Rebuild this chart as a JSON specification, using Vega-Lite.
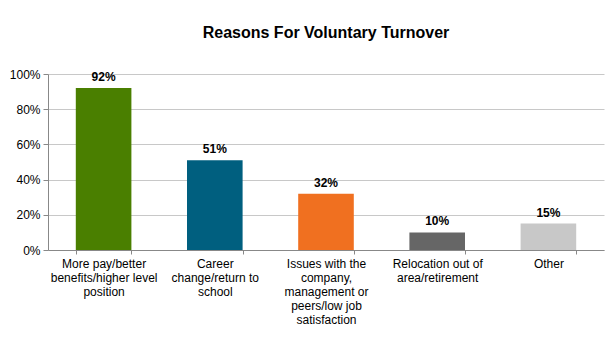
{
  "$schema": "https://vega.github.io/schema/vega-lite/v6.json",
  "width": 556,
  "height": 176,
  "padding": {"left": 9, "right": 5, "top": 25, "bottom": 5},
  "background": "white",
  "title": {
    "text": "Reasons For Voluntary Turnover",
    "font": "Liberation Sans",
    "fontSize": 16,
    "fontWeight": "bold",
    "color": "#000000",
    "anchor": "middle",
    "offset": 27
  },
  "data": {
    "values": [
      {"reason": "More pay/better|benefits/higher level|position", "pct": 0.92, "label": "92%", "color": "c1"},
      {"reason": "Career|change/return to|school", "pct": 0.51, "label": "51%", "color": "c2"},
      {"reason": "Issues with the|company,|management or|peers/low job|satisfaction", "pct": 0.32, "label": "32%", "color": "c3"},
      {"reason": "Relocation out of|area/retirement", "pct": 0.10, "label": "10%", "color": "c4"},
      {"reason": "Other", "pct": 0.15, "label": "15%", "color": "c5"}
    ]
  },
  "encoding": {
    "x": {
      "field": "reason",
      "type": "nominal",
      "sort": null,
      "title": null,
      "scale": {"paddingInner": 0.5, "paddingOuter": 0.25},
      "axis": {
        "labelAngle": 0,
        "labelExpr": "split(datum.label, '|')",
        "labelFont": "Liberation Sans",
        "labelFontSize": 12,
        "labelColor": "#000000",
        "labelLineHeight": 14,
        "labelPadding": 4,
        "tickBand": "extent",
        "tickColor": "#888888",
        "tickSize": 4,
        "domainColor": "#888888",
        "labelLimit": 200,
        "labelOverlap": false
      }
    },
    "y": {
      "field": "pct",
      "type": "quantitative",
      "title": null,
      "scale": {"domain": [0, 1]},
      "axis": {
        "format": ".0%",
        "values": [0, 0.2, 0.4, 0.6, 0.8, 1],
        "labelOverlap": false,
        "labelFont": "Liberation Sans",
        "labelFontSize": 12,
        "labelColor": "#000000",
        "gridColor": "#c8c8c8",
        "domainColor": "#888888",
        "tickColor": "#888888",
        "tickSize": 5,
        "labelPadding": 3
      }
    }
  },
  "layer": [
    {
      "mark": {"type": "bar"},
      "encoding": {
        "color": {
          "field": "color",
          "type": "nominal",
          "legend": null,
          "scale": {
            "domain": ["c1", "c2", "c3", "c4", "c5"],
            "range": ["#4a7f00", "#005f7f", "#f07020", "#666666", "#c8c8c8"]
          }
        }
      }
    },
    {
      "mark": {
        "type": "text",
        "font": "Liberation Sans",
        "fontSize": 12,
        "fontWeight": "bold",
        "color": "#000000",
        "baseline": "bottom",
        "dy": -4
      },
      "encoding": {
        "text": {"field": "label"}
      }
    }
  ],
  "config": {
    "view": {"stroke": null},
    "axis": {"labelFontWeight": "normal"}
  }
}
